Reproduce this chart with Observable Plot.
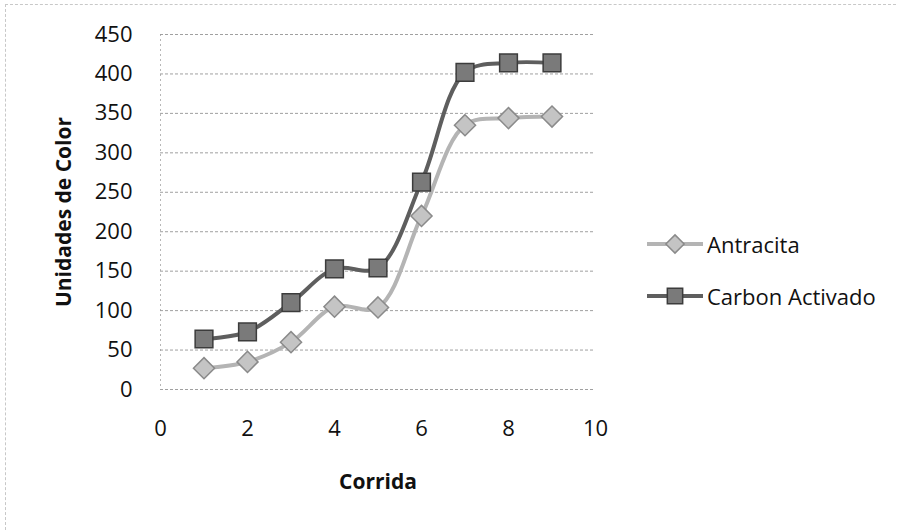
<!DOCTYPE html>
<html>
<head>
<meta charset="utf-8">
<script src="https://cdn.jsdelivr.net/npm/d3@7"></script>
<script src="https://cdn.jsdelivr.net/npm/@observablehq/plot@0.6"></script>
<style>
  html, body { margin: 0; padding: 0; background: #fff; }
  #wrap { position: relative; width: 897px; height: 531px; font-family: "Open Sans", sans-serif; }
  #frame { position: absolute; left: 5px; top: 4px; width: 890px; height: 525px;
           border-top: 1px dashed #c8c8c8; border-left: 1px dashed #c8c8c8; pointer-events: none; }
  g[aria-label="x-axis label"] text, g[aria-label="y-axis label"] text { font-weight: bold; font-size: 21px; }
  .leg { position: absolute; left: 645px; height: 26px; display: flex; align-items: center;
         font-size: 22px; color: #111; white-space: nowrap; }
  .leg svg { margin-right: 2px; }
</style>
</head>
<body>
<div id="wrap"><div id="frame"></div></div>
<script>
const corrida = [1, 2, 3, 4, 5, 6, 7, 8, 9];
const antracita = [27, 35, 60, 105, 104, 220, 335, 344, 346];
const carbonActivado = [64, 73, 110, 153, 154, 263, 402, 414, 414];
const seriesNames = ["Antracita", "Carbon Activado"];
const yTicks = [0, 50, 100, 150, 200, 250, 300, 350, 400, 450];
const xTicks = [0, 2, 4, 6, 8, 10];

const rows = [];
corrida.forEach((c, i) => {
  rows.push({serie: seriesNames[0], x: c, y: antracita[i]});
  rows.push({serie: seriesNames[1], x: c, y: carbonActivado[i]});
});
const ant = rows.filter(d => d.serie === seriesNames[0]);
const car = rows.filter(d => d.serie === seriesNames[1]);

const styles = {
  "Antracita": {line: "#b4b4b4", fill: "#c4c4c4", stroke: "#8a8a8a", symbol: "diamond2", r: 9.5},
  "Carbon Activado": {line: "#5e5e5e", fill: "#7a7a7a", stroke: "#3c3c3c", symbol: "square", r: 10}
};

const chart = Plot.plot({
  width: 897,
  height: 531,
  marginLeft: 160,
  marginRight: 302,
  marginTop: 34,
  marginBottom: 142,
  style: {fontFamily: "Open Sans, sans-serif", fontSize: "22px", color: "#111", background: "transparent"},
  x: {domain: [0, 10], ticks: xTicks},
  y: {domain: [0, 450], ticks: yTicks},
  marks: [
    Plot.gridY(yTicks, {stroke: "#777", strokeOpacity: 0.7, strokeDasharray: "3,2"}),
    Plot.ruleX([0], {stroke: "#999", strokeOpacity: 0.7, strokeDasharray: "2,3"}),
    Plot.axisY(yTicks, {tickSize: 0, tickPadding: 28, label: "Unidades de Color", labelAnchor: "center", labelArrow: "none", labelOffset: 104, fontSize: 22}),
    Plot.axisX(xTicks, {tickSize: 0, tickPadding: 31, label: "Corrida", labelAnchor: "center", labelArrow: "none", labelOffset: 99, fontSize: 22}),
    Plot.line(ant, {x: "x", y: "y", stroke: styles["Antracita"].line, strokeWidth: 4, curve: "catmull-rom"}),
    Plot.line(car, {x: "x", y: "y", stroke: styles["Carbon Activado"].line, strokeWidth: 4, curve: "catmull-rom"}),
    Plot.dot(ant, {x: "x", y: "y", symbol: "diamond2", r: styles["Antracita"].r, fill: styles["Antracita"].fill, stroke: styles["Antracita"].stroke, strokeWidth: 1.5}),
    Plot.dot(car, {x: "x", y: "y", symbol: "square", r: styles["Carbon Activado"].r, fill: styles["Carbon Activado"].fill, stroke: styles["Carbon Activado"].stroke, strokeWidth: 1.5})
  ]
});
const wrap = document.getElementById("wrap");
wrap.appendChild(chart);

// HTML legend
const legendTops = [231, 283];
seriesNames.forEach((name, i) => {
  const s = styles[name];
  const div = document.createElement("div");
  div.className = "leg";
  div.style.top = legendTops[i] + "px";
  const sym = d3.create("svg").attr("width", 60).attr("height", 26);
  sym.append("line").attr("x1", 2).attr("x2", 58).attr("y1", 13).attr("y2", 13)
    .attr("stroke", s.line).attr("stroke-width", 4);
  const size = Math.PI * s.r * s.r * 0.75;
  sym.append("path")
    .attr("d", d3.symbol(s.symbol === "square" ? d3.symbolSquare : d3.symbolDiamond2, size)())
    .attr("transform", "translate(30,13)")
    .attr("fill", s.fill).attr("stroke", s.stroke).attr("stroke-width", 1.5);
  div.appendChild(sym.node());
  const span = document.createElement("span");
  span.textContent = name;
  div.appendChild(span);
  wrap.appendChild(div);
});
chart.style.position = "absolute";
chart.style.left = "0px";
chart.style.top = "0px";
</script>
</body>
</html>
